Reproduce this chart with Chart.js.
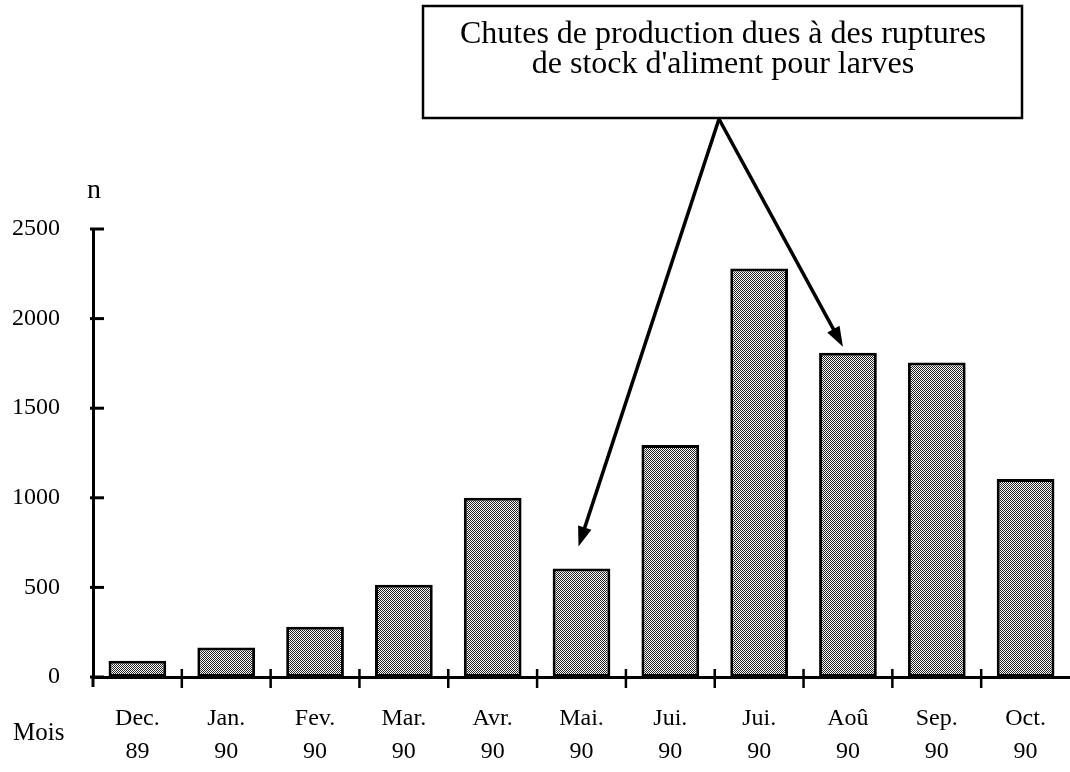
<!DOCTYPE html>
<html>
<head>
<meta charset="utf-8">
<script src="https://cdn.jsdelivr.net/npm/chart.js@4/dist/chart.umd.min.js"></script>
<style>
  body { margin: 0; background: #fff; }
  #wrap { width: 1070px; height: 772px; }
</style>
</head>
<body>
<div id="wrap"><canvas id="myChart" width="1070" height="772"></canvas></div>
<script>
const months = ['Dec.', 'Jan.', 'Fev.', 'Mar.', 'Avr.', 'Mai.', 'Jui.', 'Jui.', 'Aoû', 'Sep.', 'Oct.'];
const years = ['89', '90', '90', '90', '90', '90', '90', '90', '90', '90', '90'];
const production = [90, 165, 280, 515, 1000, 605, 1295, 2280, 1810, 1755, 1105];
const yTicks = [0, 500, 1000, 1500, 2000, 2500];
const noteLines = ['Chutes de production dues à des ruptures', "de stock d'aliment pour larves"];
const arrowTargets = [5, 8]; // Mai. 90 et Aoû 90

const serif = "'Liberation Serif', 'DejaVu Serif', serif";

// trame pointillée des barres
function makePattern() {
    const p = document.createElement('canvas');
    p.width = 2; p.height = 2;
    const c = p.getContext('2d');
    c.fillStyle = '#fff';
    c.fillRect(0, 0, 2, 2);
    c.fillStyle = '#222';
    c.fillRect(0, 0, 1, 1);
    c.fillRect(1, 1, 1, 1);
    return document.getElementById('myChart').getContext('2d').createPattern(p, 'repeat');
}

function arrow(ctx, x1, y1, x2, y2) {
    const a = Math.atan2(y2 - y1, x2 - x1);
    const len = 20, w = 7;
    ctx.beginPath();
    ctx.moveTo(x1, y1);
    ctx.lineTo(x2 - Math.cos(a) * len * 0.8, y2 - Math.sin(a) * len * 0.8);
    ctx.stroke();
    ctx.beginPath();
    ctx.moveTo(x2, y2);
    ctx.lineTo(x2 - Math.cos(a) * len - Math.sin(a) * w, y2 - Math.sin(a) * len + Math.cos(a) * w);
    ctx.lineTo(x2 - Math.cos(a) * len + Math.sin(a) * w, y2 - Math.sin(a) * len - Math.cos(a) * w);
    ctx.closePath();
    ctx.fill();
}

const decorations = {
    id: 'decorations',
    afterDraw(chart) {
        const ctx = chart.ctx;
        const x = chart.scales.x, y = chart.scales.y;
        const area = chart.chartArea;
        ctx.save();
        ctx.strokeStyle = '#000';
        ctx.fillStyle = '#000';
        ctx.lineCap = 'butt';

        // graduations de l'axe y (vers l'intérieur)
        ctx.lineWidth = 3;
        yTicks.forEach(v => {
            const py = y.getPixelForValue(v);
            ctx.beginPath();
            ctx.moveTo(area.left - 3, py);
            ctx.lineTo(area.left + 11, py);
            ctx.stroke();
        });
        // prolongement de l'axe y sous la ligne de base
        ctx.beginPath();
        ctx.moveTo(area.left, area.bottom);
        ctx.lineTo(area.left, area.bottom + 10);
        ctx.stroke();

        // graduations entre les mois
        ctx.lineWidth = 2.5;
        for (let i = 1; i < months.length; i++) {
            const px = (x.getPixelForValue(i - 1) + x.getPixelForValue(i)) / 2;
            ctx.beginPath();
            ctx.moveTo(px, area.bottom - 8);
            ctx.lineTo(px, area.bottom + 11);
            ctx.stroke();
        }

        // titres des axes
        ctx.font = '28px ' + serif;
        ctx.textAlign = 'center';
        ctx.textBaseline = 'alphabetic';
        ctx.fillText('n', area.left + 1, 198);
        ctx.font = '25px ' + serif;
        ctx.textAlign = 'left';
        ctx.textBaseline = 'middle';
        ctx.fillText('Mois', 13, 733);

        // encadré
        ctx.lineWidth = 2.5;
        ctx.strokeRect(423, 6, 599, 112);
        ctx.font = '32px ' + serif;
        ctx.textAlign = 'center';
        ctx.textBaseline = 'alphabetic';
        ctx.fillText(noteLines[0], 723, 43);
        ctx.fillText(noteLines[1], 723, 73);

        // flèches vers les barres
        const meta = chart.getDatasetMeta(0);
        ctx.lineWidth = 3.5;
        const offsets = [[-3, -22], [-5, -6]];
        arrowTargets.forEach((idx, k) => {
            const bar = meta.data[idx];
            arrow(ctx, 719, 119, bar.x + offsets[k][0], bar.y + offsets[k][1]);
        });
        ctx.restore();
    }
};

const data = {
    labels: months.map((m, i) => [m, years[i]]),
    datasets: [{
        label: 'n',
        data: production,
        backgroundColor: makePattern(),
        borderColor: '#000',
        borderWidth: 3,
        borderSkipped: false,
        barPercentage: 0.65,
        categoryPercentage: 1.0
    }]
};

const options = {
    responsive: false,
    animation: false,
    layout: { padding: { top: 229, left: 0, right: 0, bottom: 0 } },
    plugins: {
        legend: { display: false },
        tooltip: { enabled: false }
    },
    scales: {
        x: {
            offset: true,
            grid: { display: false },
            border: { display: true, color: '#000', width: 3 },
            ticks: {
                color: '#000',
                font: { family: serif, size: 24, lineHeight: 1.38 },
                padding: 17,
                maxRotation: 0,
                autoSkip: false
            },
            afterFit(scale) { scale.height = 95; }
        },
        y: {
            min: 0,
            max: 2500,
            grid: { display: false, drawTicks: false },
            border: { display: true, color: '#000', width: 3 },
            ticks: {
                stepSize: 500,
                color: '#000',
                font: { family: serif, size: 24 },
                padding: 33,
                callback: v => String(v)
            },
            afterFit(scale) { scale.width = 93; }
        }
    }
};

const myChart = new Chart(document.getElementById('myChart'), {
    type: 'bar',
    data: data,
    options: options,
    plugins: [decorations]
});
</script>
</body>
</html>
